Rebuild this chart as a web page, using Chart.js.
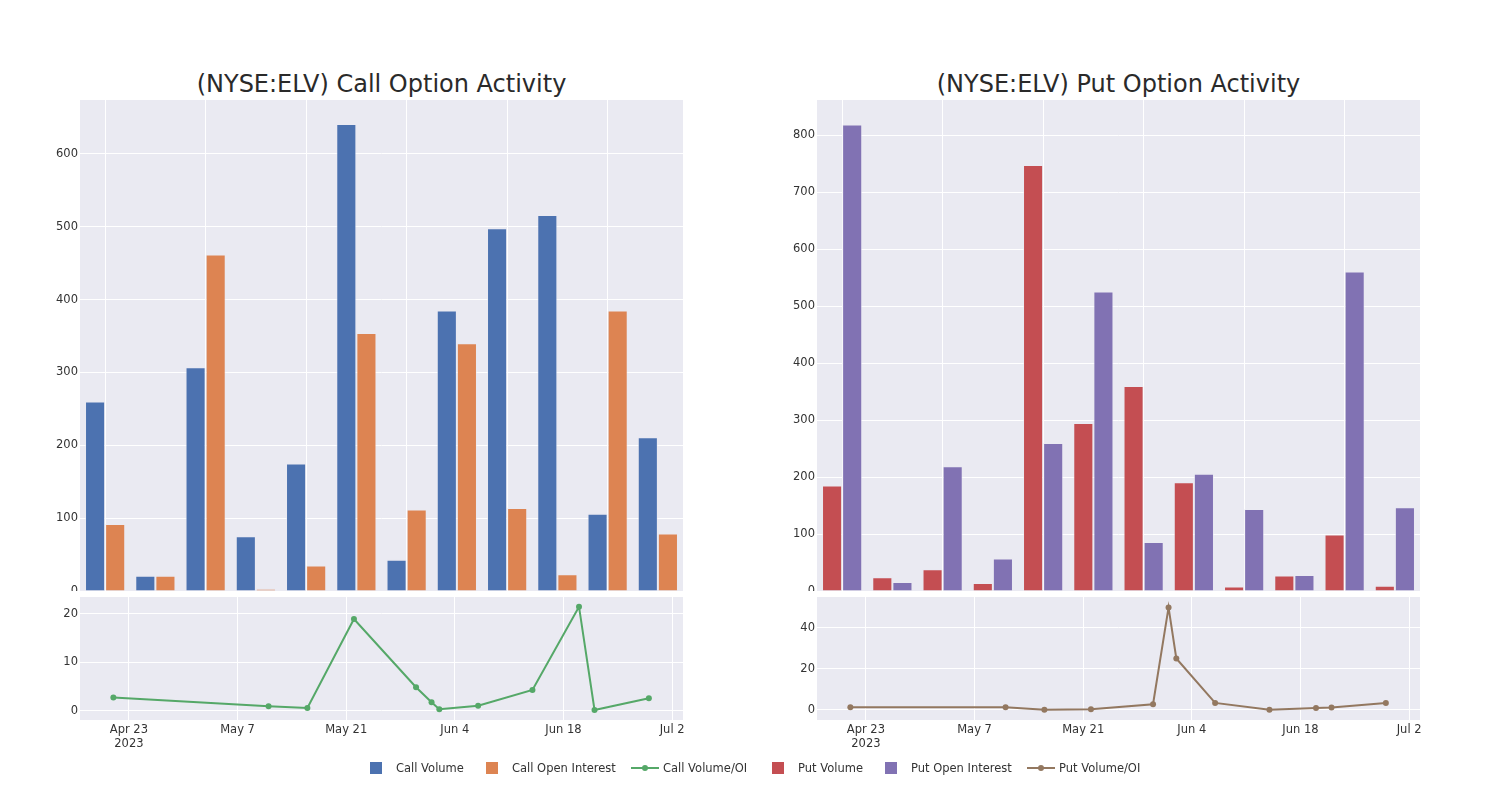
<!DOCTYPE html>
<html>
<head>
<meta charset="utf-8">
<script src="https://cdn.jsdelivr.net/npm/chart.js"></script>
<style>
  body { margin:0; background:#fff; width:1500px; height:800px; position:relative; overflow:hidden; font-family:"DejaVu Sans", sans-serif; }
  canvas { position:absolute; }
  .title { position:absolute; width:603px; text-align:center; font-size:24px; color:#2a2a2a; line-height:30px; }
  .leg { position:absolute; top:761px; font-size:11.5px; color:#333; line-height:14px; white-space:nowrap; }
  .sq { position:absolute; top:762px; width:12px; height:12px; }
  .ln { position:absolute; top:767px; width:28px; height:2px; }
  .dot { position:absolute; top:765px; width:6px; height:6px; border-radius:50%; }
</style>
</head>
<body>
<div class="title" style="left:80px;top:69px;">(NYSE:ELV) Call Option Activity</div>
<div class="title" style="left:817px;top:69px;">(NYSE:ELV) Put Option Activity</div>

<canvas id="callBars" width="700" height="491" style="left:0;top:100px;"></canvas>
<canvas id="putBars" width="700" height="491" style="left:737px;top:100px;"></canvas>
<canvas id="callLine" width="700" height="177" style="left:0;top:593px;"></canvas>
<canvas id="putLine" width="700" height="177" style="left:737px;top:593px;"></canvas>

<div id="legend"></div>

<script>
// ---- data ----
const barCategories = ['2023-04-21','2023-05-11','2023-05-16','2023-05-22','2023-05-30','2023-06-01','2023-06-02','2023-06-07','2023-06-14','2023-06-20','2023-06-22','2023-06-29'];
const callVolume = [260, 21, 307, 75, 175, 641, 43, 385, 498, 516, 106, 211];
const callOpenInterest = [92, 21, 462, 3, 35, 354, 112, 340, 114, 23, 385, 79];
const putVolume = [185, 24, 38, 14, 748, 295, 360, 191, 8, 27, 99, 9];
const putOpenInterest = [819, 16, 219, 57, 260, 526, 86, 206, 144, 28, 561, 147];

const ratioDates = ['2023-04-21','2023-05-11','2023-05-16','2023-05-22','2023-05-30','2023-06-01','2023-06-02','2023-06-07','2023-06-14','2023-06-20','2023-06-22','2023-06-29'];
const callRatio = [2.76, 0.97, 0.62, 18.97, 4.9, 1.8, 0.34, 1.1, 4.34, 21.5, 0.2, 2.62];
const putRatio = [1.3, 1.3, 0.16, 0.33, 2.78, 50.0, 25.1, 3.43, 0.16, 0.98, 1.14, 3.43];

const xTickDates = ['2023-04-23','2023-05-07','2023-05-21','2023-06-04','2023-06-18','2023-07-02'];
const xTickLabels = [['Apr 23','2023'], 'May 7', 'May 21', 'Jun 4', 'Jun 18', 'Jul 2'];
const callRatioTicks = [0, 10, 20];
const putRatioTicks = [0, 20, 40];

const colors = {
  callVol:'#4C72B0', callOI:'#DD8452', callRatio:'#55A868',
  putVol:'#C44E52', putOI:'#8172B3', putRatio:'#937860'
};

// ---- helpers ----
function dayNum(s){ const p = s.split('-').map(Number); return Date.UTC(p[0], p[1]-1, p[2]) / 86400000; }
const BG = '#EAEAF2';
const tickFont = { family:'DejaVu Sans', size:11.5 };
const tickColor = '#333';

const bgPlugin = {
  id:'bg',
  beforeDraw(chart){
    const a = chart.chartArea, c = chart.ctx;
    c.save(); c.fillStyle = BG; c.fillRect(a.left, a.top, a.right-a.left, a.bottom-a.top); c.restore();
  }
};

function fixY(scale){ scale.width = 80; scale.paddingTop = 0; scale.paddingBottom = 0; }

function barChart(id, a, b, colA, colB, yMax){
  const ds = (data, col) => ({
    data, backgroundColor:col, borderColor:'rgba(234,234,242,0.55)', borderWidth:1,
    categoryPercentage:0.8, barPercentage:1.0
  });
  return new Chart(document.getElementById(id), {
    type:'bar',
    data:{ labels:barCategories, datasets:[ds(a, colA), ds(b, colB)] },
    plugins:[bgPlugin],
    options:{
      responsive:false, animation:false,
      layout:{ padding:{ right:17 } },
      plugins:{ legend:{display:false}, tooltip:{enabled:false} },
      scales:{
        x:{
          grid:{ offset:false, drawTicks:false, color:ctx => ctx.index % 2 === 0 ? '#fff' : 'rgba(0,0,0,0)' },
          border:{ display:false },
          ticks:{ display:false },
          afterFit(s){ s.height = 0; s.paddingLeft = 0; s.paddingRight = 0; }
        },
        y:{
          min:0, max:yMax,
          grid:{ color:'#fff', drawTicks:false },
          border:{ display:false },
          ticks:{ stepSize:100, includeBounds:false, padding:2, font:tickFont, color:tickColor },
          afterFit:fixY
        }
      }
    }
  });
}

function lineChart(id, dates, values, col, yMin, yMax, yTicks){
  const x0 = dayNum('2023-04-23');
  return new Chart(document.getElementById(id), {
    type:'line',
    data:{ datasets:[{
      data: dates.map((d,i) => ({ x:dayNum(d), y:values[i] })),
      borderColor:col, backgroundColor:col, borderWidth:2,
      pointRadius:3, pointBackgroundColor:col, pointBorderWidth:0, tension:0
    }]},
    plugins:[bgPlugin],
    options:{
      responsive:false, animation:false,
      layout:{ padding:{ right:17 } },
      plugins:{ legend:{display:false}, tooltip:{enabled:false} },
      scales:{
        x:{
          type:'linear', min:x0 - 6.3, max:x0 + 71.4,
          grid:{ color:'#fff', drawTicks:false },
          border:{ display:false },
          afterBuildTicks(s){ s.ticks = xTickDates.map(d => ({ value:dayNum(d) })); },
          ticks:{ padding:3, font:tickFont, color:tickColor, maxRotation:0, autoSkip:false,
                  callback:(v, i) => xTickLabels[i] },
          afterFit(s){ s.height = 50; s.paddingLeft = 0; s.paddingRight = 0; }
        },
        y:{
          min:yMin, max:yMax,
          grid:{ color:'#fff', drawTicks:false },
          border:{ display:false },
          afterBuildTicks(s){ s.ticks = yTicks.map(v => ({ value:v })); },
          ticks:{ padding:2, font:tickFont, color:tickColor },
          afterFit:fixY
        }
      }
    }
  });
}

barChart('callBars', callVolume, callOpenInterest, colors.callVol, colors.callOI, 674);
barChart('putBars', putVolume, putOpenInterest, colors.putVol, colors.putOI, 862);
lineChart('callLine', ratioDates, callRatio, colors.callRatio, -1.86, 23.5, callRatioTicks);
lineChart('putLine', ratioDates, putRatio, colors.putRatio, -4.9, 55.1, putRatioTicks);

// ---- legend ----
const legendItems = [
  { label:'Call Volume', col:colors.callVol, kind:'sq', x:370 },
  { label:'Call Open Interest', col:colors.callOI, kind:'sq', x:486 },
  { label:'Call Volume/OI', col:colors.callRatio, kind:'ln', x:631 },
  { label:'Put Volume', col:colors.putVol, kind:'sq', x:772 },
  { label:'Put Open Interest', col:colors.putOI, kind:'sq', x:885 },
  { label:'Put Volume/OI', col:colors.putRatio, kind:'ln', x:1027 }
];
const legend = document.getElementById('legend');
legendItems.forEach(it => {
  if (it.kind === 'sq') {
    legend.innerHTML += `<div class="sq" style="left:${it.x}px;background:${it.col}"></div>` +
      `<div class="leg" style="left:${it.x + 26}px">${it.label}</div>`;
  } else {
    legend.innerHTML += `<div class="ln" style="left:${it.x}px;background:${it.col}"></div>` +
      `<div class="dot" style="left:${it.x + 11}px;background:${it.col}"></div>` +
      `<div class="leg" style="left:${it.x + 32}px">${it.label}</div>`;
  }
});
</script>
</body>
</html>
